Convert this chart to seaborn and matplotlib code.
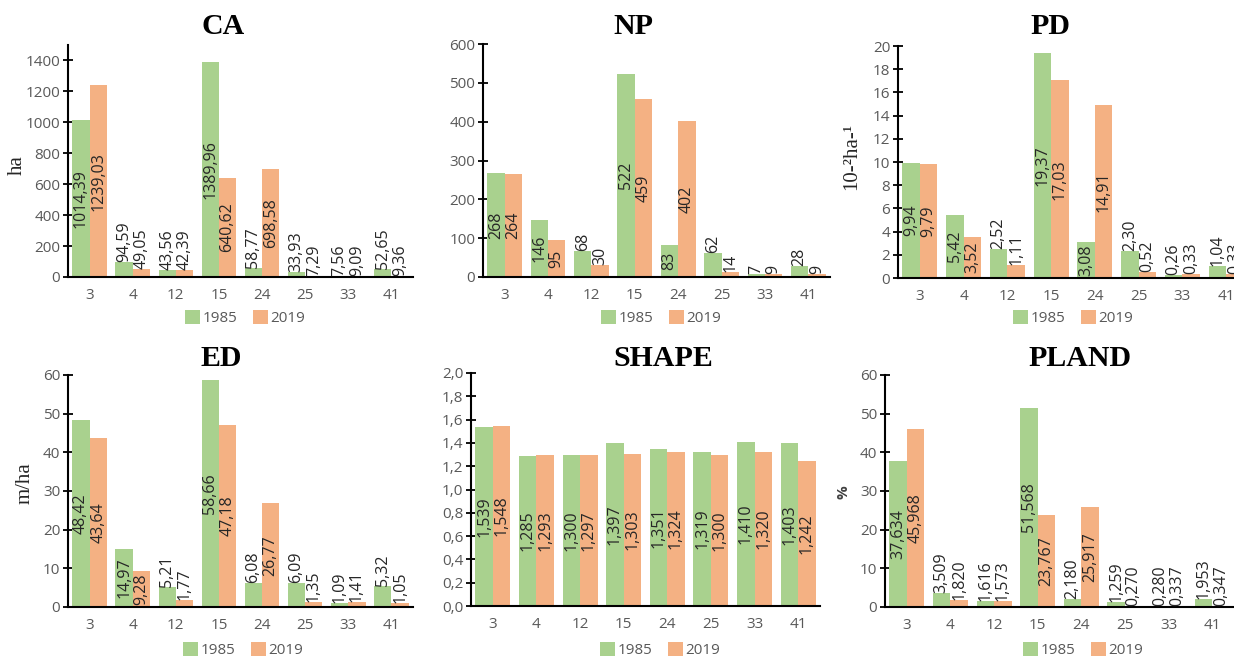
import numpy as np
import pandas as pd
import matplotlib
matplotlib.use('Agg')
import matplotlib.pyplot as plt
import seaborn as sns
from matplotlib.patches import Patch

# landscape metrics per land-cover class, 1985 vs 2019
classes = ['3', '4', '12', '15', '24', '25', '33', '41']
years = ['1985', '2019']

ca_1985 = [1014.39, 94.59, 43.56, 1389.96, 58.77, 33.93, 7.56, 52.65]
ca_2019 = [1239.03, 49.05, 42.39, 640.62, 698.58, 7.29, 9.09, 9.36]
np_1985 = [268, 146, 68, 522, 83, 62, 7, 28]
np_2019 = [264, 95, 30, 459, 402, 14, 9, 9]
pd_1985 = [9.94, 5.42, 2.52, 19.37, 3.08, 2.30, 0.26, 1.04]
pd_2019 = [9.79, 3.52, 1.11, 17.03, 14.91, 0.52, 0.33, 0.33]
ed_1985 = [48.42, 14.97, 5.21, 58.66, 6.08, 6.09, 1.09, 5.32]
ed_2019 = [43.64, 9.28, 1.77, 47.18, 26.77, 1.35, 1.41, 1.05]
shape_1985 = [1.539, 1.285, 1.300, 1.397, 1.351, 1.319, 1.410, 1.403]
shape_2019 = [1.548, 1.293, 1.297, 1.303, 1.324, 1.300, 1.320, 1.242]
pland_1985 = [37.634, 3.509, 1.616, 51.568, 2.180, 1.259, 0.280, 1.953]
pland_2019 = [45.968, 1.820, 1.573, 23.767, 25.917, 0.270, 0.337, 0.347]

titles = ['CA', 'NP', 'PD', 'ED', 'SHAPE', 'PLAND']
units = ['ha', '', '10-²ha-¹', 'm/ha', '', '%']
decimals = [2, 0, 2, 2, 3, 3]
y_max = [1500, 600, 20, 60, 2.0, 60]
y_step = [200, 100, 2, 10, 0.2, 10]
values = [(ca_1985, ca_2019), (np_1985, np_2019), (pd_1985, pd_2019),
          (ed_1985, ed_2019), (shape_1985, shape_2019), (pland_1985, pland_2019)]

W, H = 1234, 657
# axes box in pixels: left, top, width, height
boxes = [(68, 45, 345, 232), (483, 44, 347, 233), (898, 46, 350, 232),
         (68, 375, 345, 232), (471, 373, 349, 233), (885, 375, 349, 232)]
title_xy = [(223, 27), (633, 27), (1050, 27), (221, 358), (663, 358), (1080, 358)]
legend_xy = [(245, 318), (661, 318), (1073, 318), (243, 650), (660, 650), (1083, 650)]
unit_xy = [(17, 165), None, (852, 157), (25, 483), None, (844, 492)]

sns.set_theme(style='white')
plt.rcParams['font.family'] = ['Open Sans', 'DejaVu Sans']

colors = {'1985': '#A9D18E', '2019': '#F4B183'}
serif = ['Liberation Serif', 'DejaVu Serif']


def fmt(v, d):
    return f'{v:.{d}f}'.replace('.', ',')


fig = plt.figure(figsize=(W / 100, H / 100), dpi=100)
renderer = fig.canvas.get_renderer()

for i, (v85, v19) in enumerate(values):
    l, t, w, h = boxes[i]
    ax = fig.add_axes([l / W, 1 - (t + h) / H, w / W, h / H])
    df = pd.DataFrame({'class': classes * 2,
                       'year': ['1985'] * len(classes) + ['2019'] * len(classes),
                       'value': list(v85) + list(v19)})
    sns.barplot(data=df, x='class', y='value', hue='year', order=classes,
                hue_order=years, palette=colors, saturation=1, width=0.8,
                linewidth=0, errorbar=None, legend=False, ax=ax)
    ax.set_xlim(-0.5, len(classes) - 0.5)
    ax.set_ylim(0, y_max[i])
    ticks = np.arange(0, y_max[i] + 1e-9, y_step[i])
    ax.set_yticks(ticks)
    if i == 4:
        ax.set_yticklabels([fmt(v, 1) for v in ticks])
    else:
        ax.set_yticklabels([f'{v:.0f}' for v in ticks])
    ax.set_xlabel('')
    ax.set_ylabel('')
    sns.despine(ax=ax)
    for s in ['left', 'bottom']:
        ax.spines[s].set_color('black')
        ax.spines[s].set_linewidth(1.5)
    ax.tick_params(axis='y', direction='inout', length=7, width=1.3, color='black',
                   labelsize=11, labelcolor='#595959', pad=2, left=True)
    ax.tick_params(axis='x', length=0, labelsize=11, labelcolor='#595959', pad=8)

    # value labels: centred inside the bar when it fits, otherwise on top
    y0 = ax.transData.transform((0, 0))[1]
    for cont, vals in zip(ax.containers, (v85, v19)):
        for bar, v in zip(cont, vals):
            x = bar.get_x() + bar.get_width() / 2
            txt = ax.text(x, v / 2, fmt(v, decimals[i]), rotation=90, ha='center',
                          va='center', fontsize=11.5, color='#262626', clip_on=False)
            th = txt.get_window_extent(renderer).height
            bar_px = ax.transData.transform((0, v))[1] - y0
            if bar_px < max(th * 1.1, 30):
                txt.set_y(v)
                txt.set_va('bottom')

    tx, ty = title_xy[i]
    fig.text(tx / W, 1 - ty / H, titles[i], ha='center', va='center',
             fontsize=21.5, fontweight='bold', family=serif, color='black')
    if unit_xy[i] is not None:
        ux, uy = unit_xy[i]
        if units[i] == '%':
            fig.text(ux / W, 1 - uy / H, units[i], rotation=90, ha='center', va='center',
                     fontsize=11, fontweight='bold', color='#404040')
        else:
            fig.text(ux / W, 1 - uy / H, units[i], rotation=90, ha='center', va='center',
                     fontsize=15, family=serif, color='#262626')

    lx, ly = legend_xy[i]
    handles = [Patch(facecolor=colors[y], edgecolor='none') for y in years]
    ax.legend(handles, years, loc='center', bbox_to_anchor=(lx / W, 1 - ly / H),
              bbox_transform=fig.transFigure, ncol=2, frameon=False,
              handlelength=1, handleheight=1, handletextpad=0.15,
              columnspacing=1.0, fontsize=11, labelcolor='#595959',
              borderpad=0, borderaxespad=0)

fig.savefig('out.png', dpi=100)
